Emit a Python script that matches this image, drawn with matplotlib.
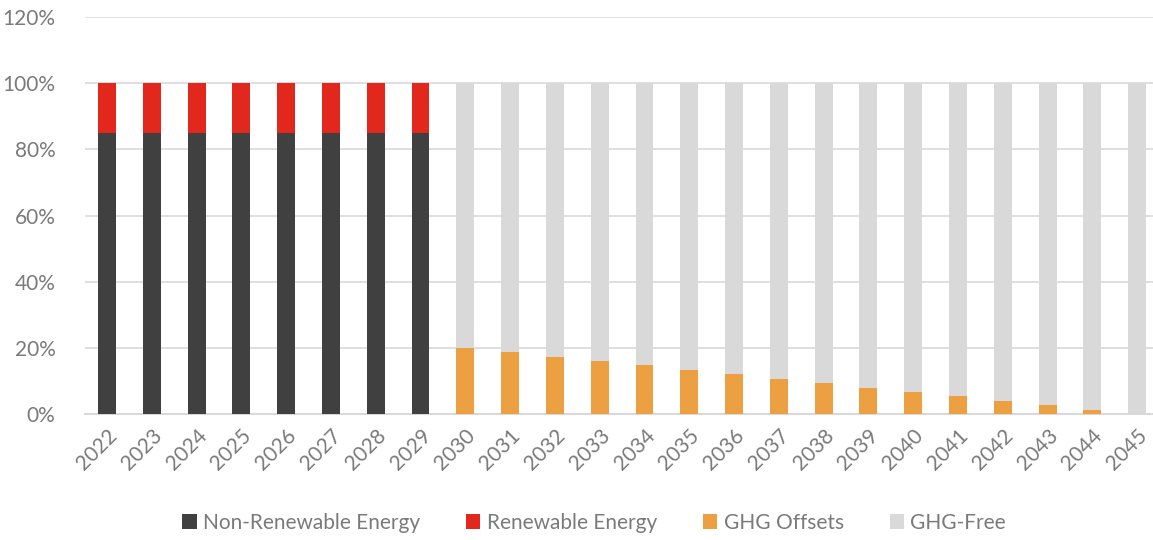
import matplotlib.pyplot as plt
import numpy as np

plt.rcParams['font.family'] = ['Lato', 'DejaVu Sans']

years = [str(y) for y in range(2022, 2046)]
non_renewable = [85, 85, 85, 85, 85, 85, 85, 85] + [0] * 16
renewable = [15, 15, 15, 15, 15, 15, 15, 15] + [0] * 16
ghg_offsets = [0] * 8 + [20, 18.7, 17.3, 16, 14.7, 13.3, 12, 10.7, 9.3, 8, 6.7, 5.3, 4, 2.7, 1.3, 0]
ghg_free = [0] * 8 + [80, 81.3, 82.7, 84, 85.3, 86.7, 88, 89.3, 90.7, 92, 93.3, 94.7, 96, 97.3, 98.7, 100]

colors = ['#404040', '#e2271d', '#eda042', '#d9d9d9']
labels = ['Non-Renewable Energy', 'Renewable Energy', 'GHG Offsets', 'GHG-Free']
txt = '#7a7a7a'

fig = plt.figure(figsize=(11.53, 5.4), dpi=100)
ax = fig.add_axes([84.6 / 1153, 126 / 540, 1075 / 1153, 397 / 540])

x = np.arange(len(years))
w = 0.4
bottom = np.zeros(len(years))
handles = []
for vals, c, lab in zip([non_renewable, renewable, ghg_offsets, ghg_free], colors, labels):
    b = ax.bar(x, vals, w, bottom=bottom, color=c, label=lab, zorder=3)
    handles.append(b)
    bottom += np.array(vals)

ax.set_xlim(-0.5, 23.5)
ax.set_ylim(0, 120)
ax.set_yticks(range(0, 121, 20))
ax.set_yticklabels([f'{v}%' for v in range(0, 121, 20)])
ax.set_xticks(x)
ax.set_xticklabels(years, rotation=45, ha='right', rotation_mode='anchor', fontsize=16)
ax.grid(axis='y', color='#d9d9d9', linewidth=1.2, zorder=0)
for s in ['top', 'right', 'left']:
    ax.spines[s].set_visible(False)
ax.spines['bottom'].set_color('#d9d9d9')
ax.spines['bottom'].set_linewidth(1.5)
ax.tick_params(axis='both', length=0, labelsize=15, labelcolor=txt)
ax.tick_params(axis='y', pad=21)
ax.tick_params(axis='x', pad=8)

fig.legend(handles=handles, labels=labels, loc='center', bbox_to_anchor=(594 / 1153, 17 / 540),
           ncol=4, frameon=False, fontsize=15, labelcolor=txt, handlelength=0.7, handleheight=0.7,
           handletextpad=0.3, columnspacing=2.2)

plt.savefig('out.png', dpi=100)
